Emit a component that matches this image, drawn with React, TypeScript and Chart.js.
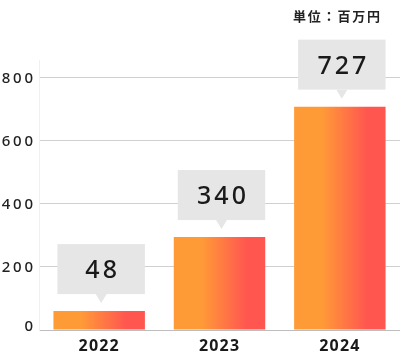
import React, { useEffect, useRef } from "react";
import { Chart, registerables } from "chart.js";

Chart.register(...registerables);

const categories = ["2022", "2023", "2024"];
const valueLabels = [48, 340, 727];
const barHeights = [60, 295, 709];
const yTicks = [0, 200, 400, 600, 800];
const yMax = 857;
const unitLabel = "単位：百万円";

const ORANGE = "#ff9b37";
const RED = "#ff5650";
const BAR_PCT = 0.76;
const FONT = '"Noto Sans", "Noto Sans CJK JP", sans-serif';
const CJK_FONT = '"Noto Sans CJK JP", "Noto Sans", sans-serif';

function drawSpaced(
  ctx: CanvasRenderingContext2D,
  text: string,
  x: number,
  y: number,
  spacing: number,
  align: "left" | "center" | "right"
) {
  const chars = Array.from(text);
  const widths = chars.map((ch) => ctx.measureText(ch).width);
  const total = widths.reduce((a, b) => a + b, 0) + spacing * (chars.length - 1);
  let cur = align === "center" ? x - total / 2 : align === "right" ? x - total : x;
  ctx.textAlign = "left";
  chars.forEach((ch, i) => {
    ctx.fillText(ch, cur, y);
    cur += widths[i] + spacing;
  });
}

export default function App() {
  const ref = useRef<HTMLCanvasElement>(null);

  useEffect(() => {
    const canvas = ref.current!;

    const labelPlugin = {
      id: "labels",
      afterDatasetsDraw(chart: any) {
        const ctx: CanvasRenderingContext2D = chart.ctx;
        const ys = chart.scales.y;
        const meta = chart.getDatasetMeta(0);
        ctx.save();
        ctx.textBaseline = "alphabetic";

        // y tick labels
        ctx.fillStyle = "#222222";
        ctx.font = `500 15px ${FONT}`;
        yTicks.forEach((v) => {
          const y = ys.getPixelForValue(v);
          drawSpaced(ctx, String(v), 33, y + (v === 0 ? 1 : 5.3), 2.8, "right");
        });

        // category labels
        ctx.font = `bold 16px ${FONT}`;
        ctx.fillStyle = "#1a1a1a";
        meta.data.forEach((el: any, i: number) => {
          drawSpaced(ctx, categories[i], el.x - 0.5, 351, 1.2, "center");
        });

        // value callouts
        meta.data.forEach((el: any, i: number) => {
          const w = el.width;
          const left = el.x - w / 2 + 4;
          const right = el.x + w / 2;
          const bottom = el.y - 17;
          const top = bottom - 50;
          const cx = (left + right) / 2;
          ctx.fillStyle = "#e6e6e6";
          ctx.fillRect(left, top, right - left, bottom - top);
          ctx.beginPath();
          ctx.moveTo(cx - 5.5, bottom);
          ctx.lineTo(cx + 5.5, bottom);
          ctx.lineTo(cx, bottom + 9);
          ctx.closePath();
          ctx.fill();
          ctx.fillStyle = "#1a1a1a";
          ctx.font = `500 25px ${FONT}`;
          drawSpaced(ctx, String(valueLabels[i]), cx, top + 34, 3, "center");
        });

        // unit label
        ctx.fillStyle = "#222222";
        ctx.font = `bold 13px ${CJK_FONT}`;
        drawSpaced(ctx, unitLabel, 380, 21, 1.8, "right");
        ctx.restore();
      },
    };

    const chart = new Chart(canvas, {
      type: "bar",
      data: {
        labels: categories,
        datasets: [
          {
            data: barHeights,
            barPercentage: BAR_PCT,
            categoryPercentage: 1,
            borderWidth: 0,
            backgroundColor: (c: any) => {
              const ch = c.chart;
              const area = ch.chartArea;
              if (!area || c.dataIndex === undefined || !ch.scales.x) return ORANGE;
              const cx = ch.scales.x.getPixelForValue(c.dataIndex);
              const w = ((area.right - area.left) / categories.length) * BAR_PCT;
              const g = ch.ctx.createLinearGradient(cx - w / 2, 0, cx + w / 2, 0);
              g.addColorStop(0, ORANGE);
              g.addColorStop(0.3, ORANGE);
              g.addColorStop(0.8, RED);
              g.addColorStop(1, RED);
              return g;
            },
          },
        ],
      },
      options: {
        responsive: false,
        animation: false,
        layout: { padding: { top: 60, bottom: 22, left: 0, right: -3 } },
        plugins: {
          legend: { display: false },
          tooltip: { enabled: false },
        },
        scales: {
          x: { display: false, offset: true },
          y: {
            min: 0,
            max: yMax,
            afterBuildTicks: (s: any) => {
              s.ticks = yTicks.map((v) => ({ value: v }));
            },
            afterFit: (s: any) => {
              s.width = 39;
            },
            ticks: { display: false },
            grid: {
              drawTicks: false,
              color: (c: any) => (c.tick && c.tick.value === 0 ? "#bdbdbd" : "#d0d0d0"),
              lineWidth: 1,
            },
            border: { display: true, color: "#f0f0f0", width: 1 },
          },
        },
      },
      plugins: [labelPlugin],
    });

    return () => chart.destroy();
  }, []);

  return (
    <div style={{ position: "absolute", left: 0, top: 0, width: 400, height: 352, background: "#ffffff" }}>
      <canvas ref={ref} width={400} height={352} />
    </div>
  );
}
